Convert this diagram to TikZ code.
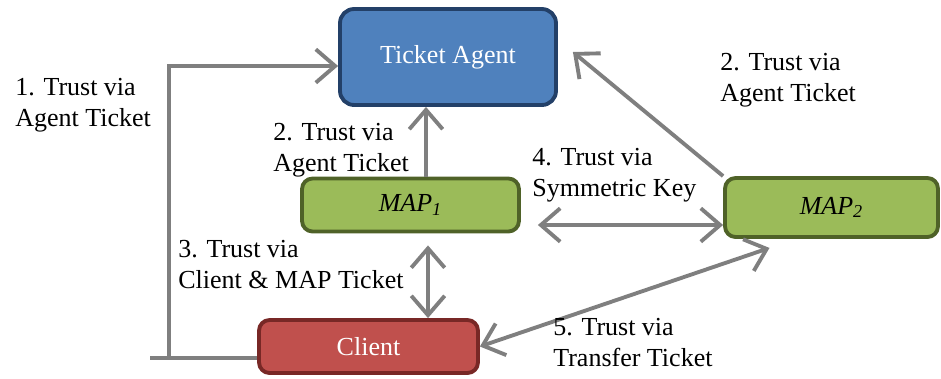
\documentclass[tikz,border=0pt]{standalone}
\usepackage{fontspec}
\setmainfont{Liberation Serif}
\usetikzlibrary{calc,arrows.meta}

\definecolor{agentfill}{RGB}{79,129,189}
\definecolor{agentline}{RGB}{35,64,104}
\definecolor{mapfill}{RGB}{155,187,89}
\definecolor{mapline}{RGB}{79,98,40}
\definecolor{clientfill}{RGB}{192,80,77}
\definecolor{clientline}{RGB}{120,40,38}
\definecolor{linkgray}{RGB}{127,127,127}

\begin{document}
\begin{tikzpicture}[
    x=0.02cm, y=-0.02cm,
    font=\fontsize{14.8}{17.6}\selectfont,
    % Box styles
    box/.style={draw, line width=2.2pt, rounded corners=6pt, inner sep=0pt},
    agentbox/.style={box, fill=agentfill, draw=agentline, text=white,
                     minimum width=4.32cm, minimum height=1.92cm, rounded corners=8pt},
    mapbox/.style={box, fill=mapfill, draw=mapline, minimum height=1.06cm},
    clientbox/.style={box, fill=clientfill, draw=clientline, text=white,
                      minimum width=4.38cm, minimum height=1.06cm},
    label/.style={anchor=north west, align=left, inner sep=0pt},
    link/.style={draw=linkgray, line width=2.2pt,
                 arrows={-}, >={Straight Barb[length=11pt,width=19pt,line width=2.2pt]}},
]
    \useasboundingbox (0,0) rectangle (941,379);

    % Boxes
    \node[agentbox] (agent) at (448,57) {Ticket Agent};
    \node[mapbox, minimum width=4.34cm] (map1) at (410.5,205) {\textit{MAP\textsubscript{1}}};
    \node[mapbox, minimum width=4.26cm, minimum height=1.18cm] (map2) at (831.5,207.5) {\textit{MAP\textsubscript{2}}};
    \node[clientbox] (client) at (368.5,346.5) {Client};

    % Helper points
    \coordinate (stub) at (150,358);
    \coordinate (bend) at (169,358);
    \coordinate (m1top) at ($(map1.north)+(15.5,0)$);
    \coordinate (m1bot) at ($(map1.south)+(17.5,0)$);
    \coordinate (m2left) at ($(map2.west)+(0,17.5)$);
    \coordinate (tipA) at ($(agent.east)+(15,-5)$);
    \coordinate (tipC) at ($(map2.south)+(-62,9)$);

    % Connections
    \draw[link] (client.west |- stub) -- (stub);
    \draw[link,->] (bend) |- ($(agent.west)+(0,9)$);
    \draw[link,->] (m1top) -- (m1top |- agent.south);
    \draw[link,<->,shorten <=0.24cm] (m1bot) -- (m1bot |- client.north);
    \draw[link,<->,shorten <=0.34cm] (m2left -| map1.east) -- (m2left);
    \draw[link,->] (map2.north west) -- (tipA);
    \draw[link,<->] (client.east) -- (tipC);

    % Labels
    \node[label] (lab1) at (15,78) {1. Trust via\\Agent Ticket};
    \node[label] (lab2) at (273,123) {2. Trust via\\Agent Ticket};
    \node[label] (lab3) at (178,240) {3. Trust via\\Client \& MAP Ticket};
    \node[label] (lab4) at (532,148) {4. Trust via\\Symmetric Key};
    \node[label] (lab2b) at (720,53) {2. Trust via\\Agent Ticket};
    \node[label] (lab5) at (553,318) {5. Trust via\\Transfer Ticket};

\end{tikzpicture}
\end{document}
